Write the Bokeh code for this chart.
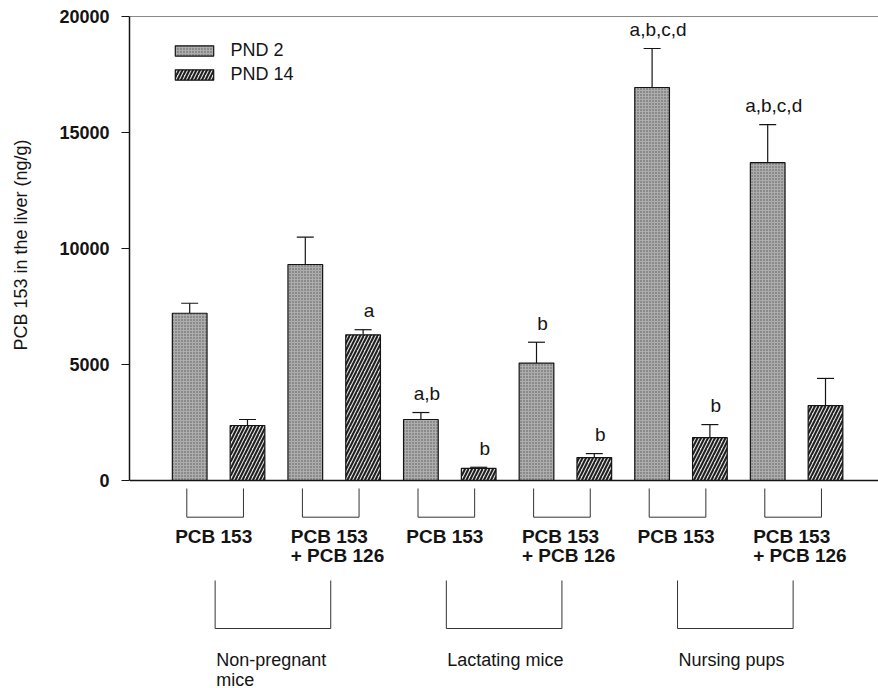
import math
from bokeh.plotting import figure
from bokeh.models import (ColumnDataSource, Whisker, TeeHead, Span, Title,
                          Legend, LegendItem, FixedTicker, Range1d)
from bokeh.core.properties import value
from bokeh.embed import file_html
from bokeh.resources import INLINE

# ---------------- data ----------------
groups = ["Non-pregnant\nmice", "Lactating mice", "Nursing pups"]
treatments = ["PCB 153", "PCB 153\n+ PCB 126"]
series_names = ["PND 2", "PND 14"]
pnd2_mean = [7210, 9310, 2630, 5060, 16940, 13700]
pnd2_sem = [430, 1180, 300, 900, 1680, 1640]
pnd14_mean = [2370, 6280, 520, 990, 1850, 3230]
pnd14_sem = [260, 220, 50, 170, 560, 1170]
pnd2_sig = ["", "", "a,b", "b", "a,b,c,d", "a,b,c,d"]
pnd14_sig = ["", "a", "b", "b", "b", ""]
y_ticks = [0, 5000, 10000, 15000, 20000]
y_title = "PCB 153 in the liver (ng/g)"

# ---------------- layout / style ----------------
W, H = 878, 688
FRAME_L, FRAME_T = 129, 16
ZERO_PX = 480           # canvas y of value 0
YMAX = 20000
PX_PER_UNIT = (ZERO_PX - FRAME_T) / YMAX
SLOT = 57.8             # px per bar slot
FIRST_BAR_PX = 189.2
FONT = "Liberation Sans"
INK = "#141414"

x0 = 1 - (FIRST_BAR_PX - FRAME_L) / SLOT
x1 = x0 + (W - FRAME_L) / SLOT
y_bottom = -(H - ZERO_PX) / PX_PER_UNIT


def ycan(c):
    """canvas pixel row -> data y"""
    return (ZERO_PX - c) / PX_PER_UNIT


n = len(pnd2_mean)
x2 = [2 * i + 1 for i in range(n)]
x14 = [2 * i + 2 for i in range(n)]

s2 = ColumnDataSource(dict(x=x2, mean=pnd2_mean,
                           upper=[m + e for m, e in zip(pnd2_mean, pnd2_sem)],
                           sig=pnd2_sig))
s14 = ColumnDataSource(dict(x=x14, mean=pnd14_mean,
                            upper=[m + e for m, e in zip(pnd14_mean, pnd14_sem)],
                            sig=pnd14_sig))

p = figure(width=W, height=H, x_range=Range1d(x0, x1),
           y_range=Range1d(y_bottom, YMAX), output_backend="svg",
           toolbar_location=None, x_axis_location=None,
           min_border_left=FRAME_L, min_border_right=0,
           min_border_top=FRAME_T, min_border_bottom=0)
p.grid.visible = False
p.outline_line_color = None
p.background_fill_color = "white"
p.border_fill_color = "white"

r2 = p.vbar(x="x", top="mean", bottom=0, width=0.6, source=s2,
            fill_color="#adadad", line_color=INK, line_width=1.2,
            hatch_pattern="dot", hatch_color="#555555", hatch_scale=3,
            hatch_weight=1)
r14 = p.vbar(x="x", top="mean", bottom=0, width=0.6, source=s14,
             fill_color="#dedede", line_color=INK, line_width=1.2,
             hatch_pattern="right_diagonal_line", hatch_color="#1e1e1e",
             hatch_scale=7, hatch_weight=2)

for src in (s2, s14):
    p.add_layout(Whisker(source=src, base="x", upper="upper", lower="mean",
                         dimension="height", line_color=INK, line_width=1.2,
                         upper_head=TeeHead(size=17, line_color=INK, line_width=1.2),
                         lower_head=None))
    p.text(x="x", y="upper", text="sig", source=src, text_align="center",
           text_baseline="alphabetic", x_offset=6, y_offset=-19,
           text_font=value(FONT), text_font_size="19px", text_color=INK)

# axis lines
p.add_layout(Span(location=0, dimension="width", line_color=INK, line_width=1.5))
p.add_layout(Span(location=YMAX, dimension="width", line_color=INK, line_width=1.2))

ax = p.yaxis[0]
ax.ticker = FixedTicker(ticks=y_ticks)
ax.bounds = (0, YMAX)
ax.major_tick_out = 8
ax.major_tick_in = 0
ax.minor_tick_out = 0
ax.minor_tick_in = 0
ax.major_label_standoff = 12
ax.major_label_text_font = FONT
ax.major_label_text_font_size = "18px"
ax.major_label_text_font_style = "bold"
ax.major_label_text_color = INK
ax.axis_line_color = INK
ax.axis_line_width = 1.5
ax.major_tick_line_color = INK
ax.major_tick_line_width = 1.2

# spacer between tick labels and the y title, then the y title
p.add_layout(Title(text=" ", text_font_size="2px", standoff=20,
                   text_color="white"), "left")
p.add_layout(Title(text=y_title, align="left", offset=338,
                   text_font=FONT, text_font_size="18px",
                   text_font_style="normal", text_color=INK, standoff=4),
             "left")

# brackets and category labels
off = -0.06
half = 0.49
pair_cx = [2 * i + 1.5 + off for i in range(n)]
yt, yb = ycan(488), ycan(516.7)
p.multi_line(xs=[[c - half, c - half, c + half, c + half] for c in pair_cx],
             ys=[[yt, yb, yb, yt] for _ in pair_cx], line_color="#333",
             line_width=1)

pair_labels = [treatments[i % len(treatments)] for i in range(n)]
line1 = [t.split("\n")[0] for t in pair_labels]
line2 = [t.split("\n")[1] if "\n" in t else "" for t in pair_labels]
lx = [c - 40 / SLOT for c in pair_cx]
for txt, yy in ((line1, ycan(535.5)), (line2, ycan(554.5))):
    p.text(x=lx, y=[yy] * n, text=txt, text_align="left",
           text_baseline="middle", text_font=value(FONT),
           text_font_size="19px", text_font_style="bold", text_color=INK)

g_left = [pair_cx[2 * g] for g in range(len(groups))]
g_right = [pair_cx[2 * g + 1] for g in range(len(groups))]
gt, gb = ycan(580), ycan(628)
p.multi_line(xs=[[a, a, b, b] for a, b in zip(g_left, g_right)],
             ys=[[gt, gb, gb, gt] for _ in groups], line_color="#333",
             line_width=1)
g1 = [g.split("\n")[0] for g in groups]
g2 = [g.split("\n")[1] if "\n" in g else "" for g in groups]
glx = [a + 1 / SLOT for a in g_left]
for txt, yy in ((g1, ycan(659)), (g2, ycan(679))):
    p.text(x=glx, y=[yy] * len(groups), text=txt, text_align="left",
           text_baseline="middle", text_font=value(FONT),
           text_font_size="18px", text_color=INK)

legend = Legend(items=[LegendItem(label=series_names[0], renderers=[r2]),
                       LegendItem(label=series_names[1], renderers=[r14])],
                location=(41.4, 603), padding=0, spacing=3, margin=0,
                glyph_width=48, glyph_height=13, label_height=13,
                label_standoff=12, label_text_font=FONT,
                label_text_font_size="18px", label_text_color=INK,
                border_line_color=None, background_fill_alpha=0)
p.add_layout(legend)

open("out.html", "w").write(file_html(p, INLINE))
